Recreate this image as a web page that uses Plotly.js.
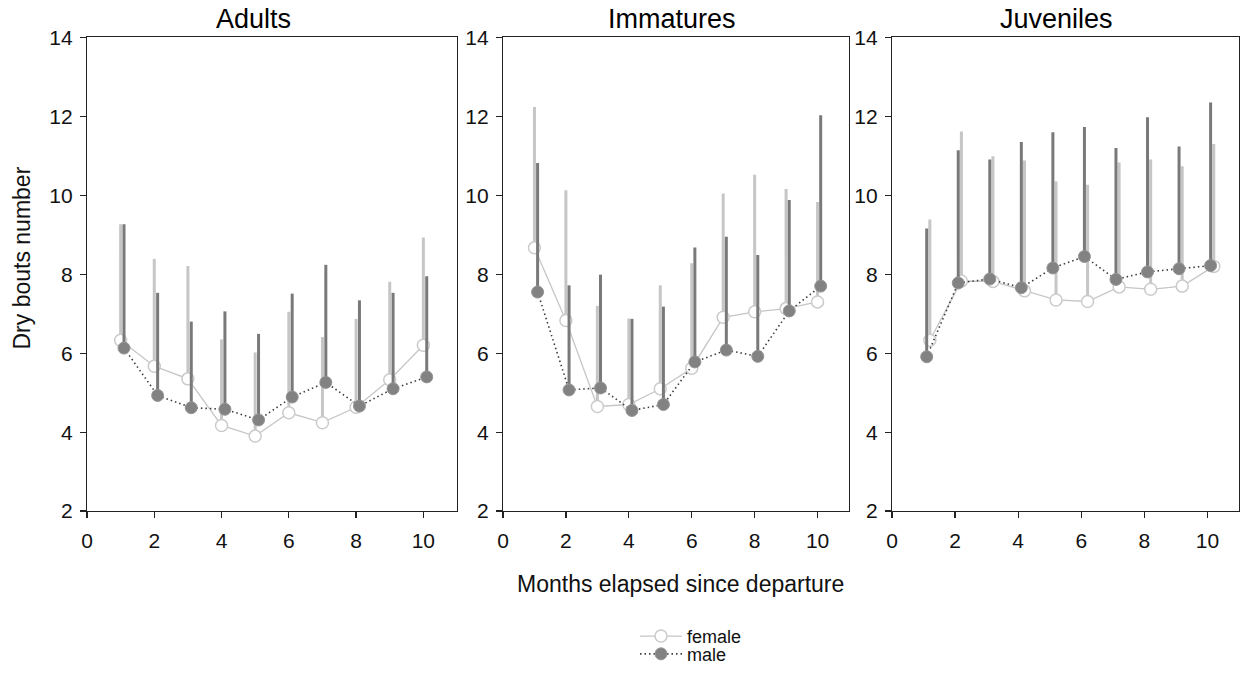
<!DOCTYPE html>
<html>
<head>
<meta charset="utf-8">
<script src="https://cdn.plot.ly/plotly-3.0.1.min.js"></script>
<style>
  html, body { margin: 0; padding: 0; background: #ffffff; }
  #chart { width: 1244px; height: 673px; }
</style>
</head>
<body>
<div id="chart"></div>
<script>
// ---- Data ----
const months = [1, 2, 3, 4, 5, 6, 7, 8, 9, 10];
const panelTitles = ["Adults", "Immatures", "Juveniles"];
const seriesNames = ["female", "male"];
const xTicks = [0, 2, 4, 6, 8, 10];
const yTicks = [2, 4, 6, 8, 10, 12, 14];

const adultsFemale      = [6.33, 5.67, 5.35, 4.17, 3.90, 4.49, 4.24, 4.63, 5.33, 6.20];
const adultsFemaleUpper = [9.27, 8.39, 8.21, 6.35, 6.02, 7.05, 6.41, 6.87, 7.81, 8.93];
const adultsMale        = [6.13, 4.93, 4.62, 4.58, 4.31, 4.89, 5.26, 4.66, 5.10, 5.40];
const adultsMaleUpper   = [9.27, 7.53, 6.80, 7.06, 6.49, 7.51, 8.24, 7.34, 7.53, 7.95];

const immFemale      = [8.67, 6.83, 4.65, 4.70, 5.10, 5.62, 6.91, 7.05, 7.13, 7.30];
const immFemaleUpper = [12.24, 10.13, 7.20, 6.88, 7.72, 8.28, 10.05, 10.52, 10.16, 9.83];
const immMale        = [7.55, 5.07, 5.12, 4.55, 4.70, 5.78, 6.08, 5.92, 7.07, 7.70];
const immMaleUpper   = [10.82, 7.72, 7.99, 6.87, 7.18, 8.68, 8.95, 8.49, 9.88, 12.03];

const juvFemale      = [6.33, 7.83, 7.82, 7.58, 7.35, 7.31, 7.68, 7.62, 7.70, 8.20];
const juvFemaleUpper = [9.39, 11.62, 10.99, 10.88, 10.35, 10.27, 10.83, 10.91, 10.74, 11.30];
const juvMale        = [5.91, 7.78, 7.88, 7.66, 8.16, 8.45, 7.87, 8.06, 8.14, 8.22];
const juvMaleUpper   = [9.16, 11.14, 10.91, 11.35, 11.60, 11.73, 11.20, 11.98, 11.24, 12.35];

// ---- Presentation ----
const W = 1244, H = 673;
const FONT = '"Liberation Sans", Arial, Helvetica, sans-serif';
const panels = [
  { f: adultsFemale, fu: adultsFemaleUpper, m: adultsMale, mu: adultsMaleUpper, fOff: 0.0, mOff: 0.1, left: 87,  right: 457, tc: 253 },
  { f: immFemale,    fu: immFemaleUpper,    m: immMale,    mu: immMaleUpper,    fOff: 0.0, mOff: 0.1, left: 503, right: 849, tc: 672 },
  { f: juvFemale,    fu: juvFemaleUpper,    m: juvMale,    mu: juvMaleUpper,    fOff: 0.2, mOff: 0.1, left: 892, right: 1239, tc: 1056 }
];
const plotTop = 38, plotBottom = 518;
const yDomain = [1 - plotBottom / H, 1 - plotTop / H];

const femaleLine = '#c6c6c6', femaleBar = '#c6c6c6';
const maleLine = '#3c3c3c', maleFill = '#828282', maleBar = '#797979';

const legendCommon = {
  xanchor: 'left', yanchor: 'middle', itemwidth: 42,
  font: { family: FONT, size: 18, color: '#111111' },
  bgcolor: 'rgba(0,0,0,0)', borderwidth: 0
};

const traces = [];
const layout = {
  width: W, height: H,
  margin: { l: 0, r: 0, t: 0, b: 0 },
  paper_bgcolor: '#ffffff', plot_bgcolor: '#ffffff',
  font: { family: FONT, color: '#000000', size: 21 },
  showlegend: true,
  legend: Object.assign({}, legendCommon, { x: 635 / W, y: 1 - 645 / H }),
  legend2: Object.assign({}, legendCommon, { x: 635 / W, y: 1 - 663 / H }),
  annotations: []
};

panels.forEach((p, i) => {
  const xa = i === 0 ? 'x' : 'x' + (i + 1);
  const ya = i === 0 ? 'y' : 'y' + (i + 1);
  const fErr = p.fu.map((u, k) => u - p.f[k]);
  const mErr = p.mu.map((u, k) => u - p.m[k]);
  traces.push({
    type: 'scatter', mode: 'lines+markers', name: seriesNames[0],
    x: months.map(v => v + p.fOff), y: p.f, xaxis: xa, yaxis: ya,
    showlegend: i === 0, legend: 'legend',
    line: { color: femaleLine, width: 1.3 },
    marker: { symbol: 'circle', size: 12, color: '#ffffff', line: { color: '#cbcbcb', width: 1.5 } },
    error_y: { type: 'data', symmetric: false, array: fErr, arrayminus: p.f.map(() => 0),
               color: femaleBar, thickness: 3, width: 0 },
    cliponaxis: false, hoverinfo: 'x+y'
  });
  traces.push({
    type: 'scatter', mode: 'lines+markers', name: seriesNames[1],
    x: months.map(v => v + p.mOff), y: p.m, xaxis: xa, yaxis: ya,
    showlegend: i === 0, legend: 'legend2',
    line: { color: maleLine, width: 1.6, dash: '1.5px,3px' },
    marker: { symbol: 'circle', size: 12, color: maleFill, line: { color: '#959595', width: 1 } },
    error_y: { type: 'data', symmetric: false, array: mErr, arrayminus: p.m.map(() => 0),
               color: maleBar, thickness: 3, width: 0 },
    cliponaxis: false, hoverinfo: 'x+y'
  });

  const axCommon = {
    showgrid: false, zeroline: false, showline: true, mirror: true,
    linecolor: '#222222', linewidth: 1.2,
    ticks: 'outside', ticklen: 6, tickwidth: 1.2, tickcolor: '#222222',
    tickfont: { family: FONT, size: 21, color: '#111111' }
  };
  layout['xaxis' + (i === 0 ? '' : i + 1)] = Object.assign({}, axCommon, {
    domain: [p.left / W, p.right / W], range: [0, 11],
    tickmode: 'array', tickvals: xTicks, ticktext: xTicks.map(String),
    ticklabelstandoff: 5, anchor: ya
  });
  layout['yaxis' + (i === 0 ? '' : i + 1)] = Object.assign({}, axCommon, {
    domain: yDomain, range: [2, 14],
    tickmode: 'array', tickvals: yTicks, ticktext: yTicks.map(String),
    ticklabelstandoff: 3, anchor: xa
  });
  layout.annotations.push({
    text: panelTitles[i], xref: 'paper', yref: 'paper',
    x: p.tc / W, y: 1 - 19 / H, xanchor: 'center', yanchor: 'middle',
    showarrow: false, font: { family: FONT, size: 27, color: '#000000' }
  });
});

layout.annotations.push({
  text: 'Dry bouts number', xref: 'paper', yref: 'paper',
  x: 22 / W, y: 1 - 262 / H, xanchor: 'center', yanchor: 'middle', textangle: -90,
  showarrow: false, font: { family: FONT, size: 23, color: '#111111' }
});
layout.annotations.push({
  text: 'Months elapsed since departure', xref: 'paper', yref: 'paper',
  x: 680 / W, y: 1 - 592 / H, xanchor: 'center', yanchor: 'middle',
  showarrow: false, font: { family: FONT, size: 23, color: '#111111' }
});

Plotly.newPlot('chart', traces, layout, { staticPlot: true, displayModeBar: false });
</script>
</body>
</html>
